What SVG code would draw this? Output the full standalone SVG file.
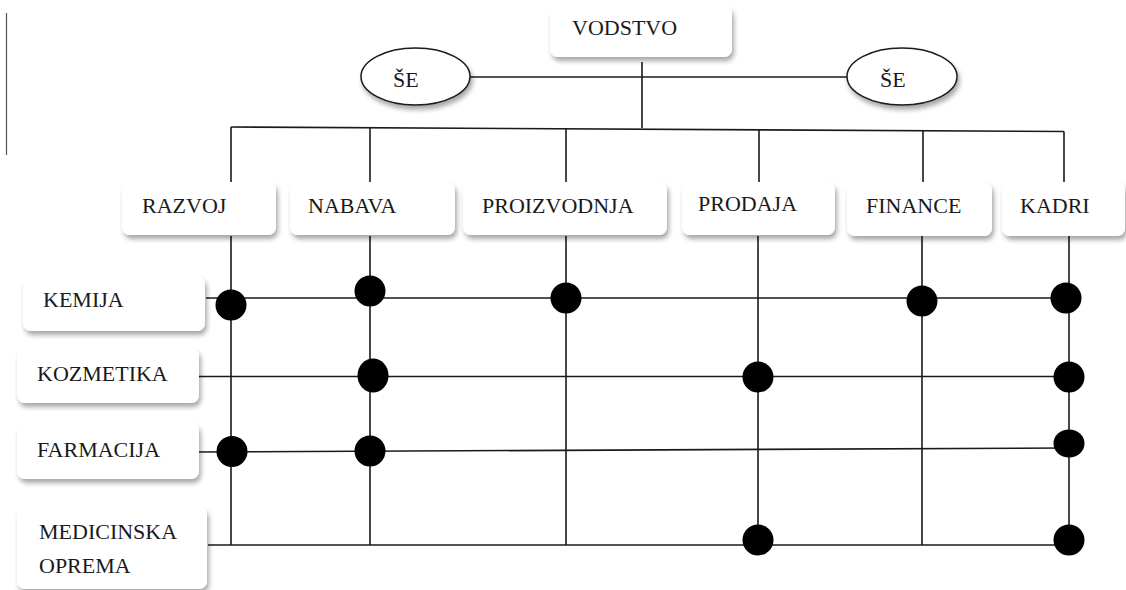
<svg xmlns="http://www.w3.org/2000/svg" width="1126" height="590" viewBox="0 0 1126 590">
  <style>
    .box { fill: #ffffff; filter: url(#shadow); }
    .oval { fill: #ffffff; stroke: #1a1a1a; stroke-width: 1.5; filter: url(#shadow); }
    .lbl { font-family: "Liberation Serif", "Times New Roman", serif; font-size: 22px; fill: #1a1a1a; }
    .wire { stroke: #1a1a1a; stroke-width: 1.6; fill: none; }
    .dot { fill: #000000; }
  </style>
  <defs>
    <filter id="shadow" x="-20%" y="-30%" width="150%" height="170%">
      <feGaussianBlur in="SourceAlpha" stdDeviation="2.5"/>
      <feOffset dx="2" dy="4" result="off"/>
      <feComponentTransfer><feFuncA type="linear" slope="0.35"/></feComponentTransfer>
      <feMerge><feMergeNode/><feMergeNode in="SourceGraphic"/></feMerge>
    </filter>
  </defs>

  <rect width="1126" height="590" fill="#ffffff"/>

  <!-- margin rule -->
  <line x1="6.5" y1="13" x2="6.5" y2="155" stroke="#555555" stroke-width="1.2"/>

  <!-- connectors -->
  <g id="connectors" class="wire">
    <!-- top: leadership and staff ovals -->
    <line x1="642" y1="62" x2="642" y2="128"/>
    <line x1="470" y1="77" x2="848" y2="77"/>
    <!-- bus to departments -->
    <line x1="231" y1="127" x2="1064" y2="131.5"/>
    <line x1="231" y1="127" x2="231" y2="183"/>
    <line x1="370" y1="127.8" x2="370" y2="183"/>
    <line x1="566" y1="128.8" x2="566" y2="183"/>
    <line x1="759" y1="129.8" x2="759" y2="183"/>
    <line x1="923" y1="130.7" x2="923" y2="183"/>
    <line x1="1064" y1="131.5" x2="1064" y2="183"/>
    <!-- department columns -->
    <line x1="231" y1="236" x2="231" y2="545"/>
    <line x1="370" y1="236" x2="370" y2="545"/>
    <line x1="566" y1="236" x2="566" y2="545"/>
    <line x1="758" y1="236" x2="758" y2="545"/>
    <line x1="922" y1="236" x2="922" y2="545"/>
    <line x1="1069" y1="236" x2="1069" y2="545"/>
    <!-- product rows -->
    <line x1="206" y1="298" x2="1066" y2="298"/>
    <line x1="198" y1="376.5" x2="1069" y2="376.5"/>
    <line x1="198" y1="452" x2="1069" y2="448"/>
    <line x1="208" y1="545" x2="1069" y2="545"/>
  </g>

  <!-- matrix junction dots -->
  <g id="dots" class="dot">
    <circle cx="231" cy="305" r="15.5"/>
    <circle cx="370" cy="291" r="15.5"/>
    <circle cx="566" cy="298" r="15.5"/>
    <circle cx="922" cy="301" r="15.5"/>
    <circle cx="1066" cy="298" r="15.5"/>
    <ellipse cx="373" cy="375.5" rx="15.5" ry="17"/>
    <circle cx="758" cy="377" r="15.5"/>
    <circle cx="1069" cy="377" r="15.5"/>
    <circle cx="232" cy="451.5" r="15.5"/>
    <circle cx="370" cy="451" r="15.5"/>
    <ellipse cx="1069" cy="443.5" rx="15.5" ry="14"/>
    <circle cx="758" cy="540" r="15.5"/>
    <circle cx="1069" cy="540" r="15.5"/>
  </g>

  <!-- leadership -->
  <g id="vodstvo">
    <rect class="box" x="550" y="6" width="182" height="51" rx="8"/>
    <text class="lbl" x="572" y="35">VODSTVO</text>
  </g>
  <g id="se-left">
    <ellipse class="oval" cx="415.5" cy="76.5" rx="54.5" ry="28.5"/>
    <text class="lbl" x="393" y="87">ŠE</text>
  </g>
  <g id="se-right">
    <ellipse class="oval" cx="902" cy="76.5" rx="55" ry="28.5"/>
    <text class="lbl" x="880" y="87">ŠE</text>
  </g>

  <!-- departments -->
  <g id="razvoj">
    <rect class="box" x="122" y="182" width="154" height="53" rx="8"/>
    <text class="lbl" x="142" y="213">RAZVOJ</text>
  </g>
  <g id="nabava">
    <rect class="box" x="290" y="182" width="165" height="53" rx="8"/>
    <text class="lbl" x="308" y="213">NABAVA</text>
  </g>
  <g id="proizvodnja">
    <rect class="box" x="463" y="182" width="204" height="53" rx="8"/>
    <text class="lbl" x="482" y="213">PROIZVODNJA</text>
  </g>
  <g id="prodaja">
    <rect class="box" x="682" y="182" width="153" height="53" rx="8"/>
    <text class="lbl" x="698" y="211">PRODAJA</text>
  </g>
  <g id="finance">
    <rect class="box" x="847" y="182" width="145" height="54" rx="8"/>
    <text class="lbl" x="866" y="213">FINANCE</text>
  </g>
  <g id="kadri">
    <rect class="box" x="1002" y="182" width="123" height="54" rx="8"/>
    <text class="lbl" x="1020" y="213">KADRI</text>
  </g>

  <!-- product lines -->
  <g id="kemija">
    <rect class="box" x="23" y="276" width="182" height="55" rx="8"/>
    <text class="lbl" x="43" y="307">KEMIJA</text>
  </g>
  <g id="kozmetika">
    <rect class="box" x="17" y="348" width="182" height="55" rx="8"/>
    <text class="lbl" x="37" y="381">KOZMETIKA</text>
  </g>
  <g id="farmacija">
    <rect class="box" x="17" y="423" width="182" height="56" rx="8"/>
    <text class="lbl" x="37" y="457">FARMACIJA</text>
  </g>
  <g id="medicinska-oprema">
    <rect class="box" x="17" y="507" width="190" height="82" rx="8"/>
    <text class="lbl" x="39" y="539">MEDICINSKA</text>
    <text class="lbl" x="39" y="573">OPREMA</text>
  </g>
</svg>
